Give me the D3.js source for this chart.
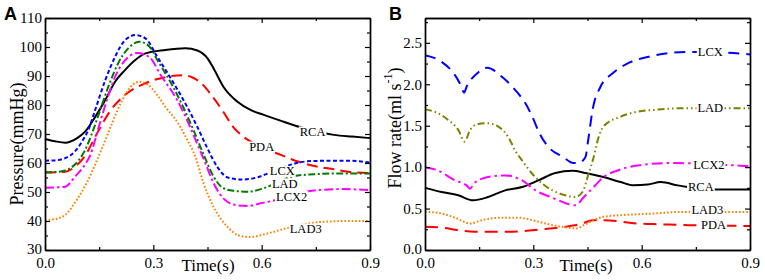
<!DOCTYPE html>
<html lang="en">
<head>
<meta charset="utf-8">
<script src="https://cdn.jsdelivr.net/npm/d3@7"></script>
<style>
  body { margin: 0; background: #fff; }
  text { font-family: "Liberation Serif", "Times New Roman", serif; fill: #000; }
</style>
</head>
<body>
<script>
// ---- panel A : pressure (mmHg) vs time (s), [t, value] pairs
var rcaA = [[0,68.3],[0.028,67.5],[0.056,67],[0.089,68.6],[0.111,70.8],[0.139,75.9],[0.167,81.7],[0.194,88],[0.222,92.1],[0.25,95.5],[0.278,97.8],[0.333,99],[0.389,99.6],[0.422,98.8],[0.45,96.1],[0.467,92.6],[0.494,86.3],[0.533,81.1],[0.569,78.3],[0.606,76.6],[0.652,74.6],[0.717,72],[0.8,69.7],[0.85,69.1],[0.9,68.6]];
var lcxA = [[0,60.8],[0.028,60.9],[0.056,61.7],[0.083,64],[0.1,66.9],[0.122,72],[0.139,78.3],[0.167,88.6],[0.194,96.6],[0.222,102.4],[0.25,104.1],[0.278,103],[0.311,96.6],[0.356,87.6],[0.394,79.3],[0.422,72.4],[0.45,65],[0.478,58.5],[0.506,55],[0.544,54.3],[0.589,55.1],[0.617,56.4],[0.656,58.3],[0.694,59.9],[0.744,60.7],[0.833,60.8],[0.87,60.6],[0.9,60.1]];
var ladA = [[0,56.8],[0.033,56.9],[0.056,57.4],[0.083,59.5],[0.109,64],[0.131,70.5],[0.148,76.5],[0.176,86.5],[0.203,94.5],[0.231,99.6],[0.261,101.8],[0.289,100.2],[0.311,95.5],[0.356,86],[0.411,71.4],[0.439,63],[0.467,55.3],[0.494,51.3],[0.522,50.4],[0.561,50.1],[0.606,51.3],[0.628,52.4],[0.656,54],[0.689,55.5],[0.744,56.1],[0.811,56.4],[0.9,56.4]];
var lcx2A = [[0,51.5],[0.033,51.6],[0.056,51.8],[0.083,55.3],[0.111,59.5],[0.128,63.5],[0.144,70.3],[0.167,80],[0.194,89.7],[0.222,95.5],[0.256,97.9],[0.289,96.5],[0.322,90],[0.367,81.5],[0.4,73],[0.422,66.5],[0.444,60],[0.467,53],[0.494,47.8],[0.528,45.5],[0.561,45.2],[0.597,46.1],[0.628,46.9],[0.667,48.3],[0.744,50.5],[0.822,51],[0.9,50.7]];
var pdaA = [[0,56.7],[0.056,57],[0.083,58.7],[0.111,62.5],[0.139,69],[0.178,77.5],[0.222,83.5],[0.278,87.5],[0.333,89.6],[0.383,90.3],[0.41,89.4],[0.433,87.5],[0.464,82.9],[0.492,78],[0.522,72.3],[0.55,69],[0.6,65.5],[0.653,62.8],[0.7,60.5],[0.756,58.7],[0.792,58],[0.839,57],[0.9,56.5]];
var lad3A = [[0,40.3],[0.033,40.8],[0.056,42.1],[0.089,47.5],[0.117,53.5],[0.144,61],[0.161,66],[0.186,73.8],[0.214,81.7],[0.242,86.9],[0.261,88],[0.286,86.9],[0.314,82.9],[0.333,79.4],[0.367,74],[0.394,68],[0.417,62],[0.439,53],[0.467,44.8],[0.506,37.9],[0.533,35.2],[0.567,34.5],[0.622,35.9],[0.672,37.6],[0.767,39.7],[0.839,40],[0.9,40]];

// ---- panel B : flow rate (ml/s) vs time (s)
var lcxB = [[0,2.35],[0.046,2.27],[0.083,2.11],[0.1,1.98],[0.108,1.9],[0.116,1.98],[0.139,2.11],[0.172,2.2],[0.213,2.09],[0.25,1.93],[0.278,1.77],[0.297,1.61],[0.319,1.39],[0.347,1.22],[0.38,1.13],[0.411,1.05],[0.425,1.05],[0.444,1.12],[0.453,1.36],[0.464,1.69],[0.486,1.97],[0.519,2.13],[0.56,2.25],[0.617,2.33],[0.68,2.38],[0.728,2.39],[0.838,2.38],[0.9,2.36]];
var ladB = [[0,1.7],[0.036,1.65],[0.064,1.57],[0.092,1.45],[0.11,1.31],[0.125,1.45],[0.147,1.52],[0.172,1.53],[0.203,1.49],[0.231,1.36],[0.25,1.2],[0.269,1.08],[0.297,0.92],[0.325,0.8],[0.353,0.72],[0.389,0.66],[0.417,0.64],[0.436,0.7],[0.453,0.92],[0.467,1.12],[0.48,1.35],[0.494,1.49],[0.542,1.61],[0.589,1.67],[0.633,1.69],[0.708,1.71],[0.838,1.71],[0.9,1.71]];
var lcx2B = [[0,1.0],[0.036,0.96],[0.083,0.84],[0.115,0.78],[0.125,0.74],[0.135,0.8],[0.147,0.84],[0.186,0.89],[0.222,0.9],[0.269,0.84],[0.306,0.72],[0.353,0.63],[0.417,0.54],[0.44,0.64],[0.467,0.76],[0.494,0.88],[0.533,0.96],[0.589,1.02],[0.681,1.05],[0.82,1.03],[0.9,1.01]];
var rcaB = [[0,0.75],[0.046,0.7],[0.092,0.66],[0.133,0.6],[0.175,0.64],[0.222,0.72],[0.269,0.76],[0.314,0.84],[0.361,0.93],[0.408,0.955],[0.444,0.93],[0.494,0.88],[0.542,0.82],[0.578,0.78],[0.617,0.79],[0.653,0.82],[0.7,0.78],[0.728,0.76],[0.8,0.73],[0.9,0.73]];
var lad3B = [[0,0.46],[0.036,0.45],[0.083,0.39],[0.125,0.32],[0.158,0.36],[0.214,0.39],[0.258,0.39],[0.306,0.35],[0.353,0.3],[0.397,0.27],[0.42,0.26],[0.44,0.3],[0.467,0.36],[0.494,0.4],[0.542,0.42],[0.633,0.44],[0.708,0.46],[0.9,0.46]];
var pdaB = [[0,0.28],[0.046,0.27],[0.092,0.24],[0.139,0.22],[0.231,0.22],[0.325,0.25],[0.389,0.28],[0.436,0.32],[0.464,0.36],[0.494,0.36],[0.589,0.32],[0.653,0.31],[0.728,0.3],[0.9,0.29]];

// tick values
var xMajor = [0, 0.3, 0.6, 0.9];
var xMinor = [0.15, 0.45, 0.75];
var yMajorA = [30, 40, 50, 60, 70, 80, 90, 100, 110];
var yMinorA = [35, 45, 55, 65, 75, 85, 95, 105];
var yMajorB = [0, 0.5, 1.0, 1.5, 2.0, 2.5];
var yMinorB = [0.25, 0.75, 1.25, 1.75, 2.25, 2.75];

// in-plot curve labels [name, t, value]
var labelsA = [["RCA", 0.741, 70.7], ["PDA", 0.6, 65.5], ["LCX", 0.657, 57.1], ["LAD", 0.664, 52.8], ["LCX2", 0.683, 48.4], ["LAD3", 0.722, 37.2]];
var labelsB = [["LCX", 0.79, 2.386], ["LAD", 0.79, 1.711], ["LCX2", 0.786, 1.024], ["RCA", 0.764, 0.759], ["LAD3", 0.782, 0.482], ["PDA", 0.799, 0.301]];

var w = 765, h = 280;
var svg = d3.select("body").append("svg").attr("width", w).attr("height", h);

var xA = d3.scaleLinear().domain([0, 0.9]).range([45, 370]);
var yA = d3.scaleLinear().domain([30, 110]).range([250, 18]);
var xB = d3.scaleLinear().domain([0, 0.9]).range([425, 750]);
var yB = d3.scaleLinear().domain([0, 2.8]).range([250, 18]);

var seriesA = [
  {data: rcaA, color: "#000000", dash: null},
  {data: pdaA, color: "#ff0000", dash: "11,6"},
  {data: lad3A, color: "#ff7f00", dash: "1.6,2"},
  {data: lcx2A, color: "#ff00ff", dash: "9,3,2.5,3"},
  {data: ladA, color: "#007a00", dash: "7,2.5,2,2.5"},
  {data: lcxA, color: "#0000ff", dash: "4,2.5"}
];
var seriesB = [
  {data: pdaB, color: "#ff0000", dash: "13,7"},
  {data: lad3B, color: "#ff7f00", dash: "1.6,2"},
  {data: rcaB, color: "#000000", dash: null},
  {data: lcx2B, color: "#ff00ff", dash: "11,4,2.5,4"},
  {data: ladB, color: "#808000", dash: "7,3,1.5,3,1.5,3"},
  {data: lcxB, color: "#0000ff", dash: "11,7"}
];

function drawAxes(x, y, yMajor, yMinor, fmtY) {
  var x0 = x.range()[0], x1 = x.range()[1], y0 = y.range()[0], y1 = y.range()[1];
  var g = svg.append("g");
  var fmtX = d3.format(".1f");

  g.append("g").attr("transform", "translate(0," + y0 + ")")
   .call(d3.axisBottom(x).tickValues(xMajor).tickSize(-5).tickSizeOuter(0).tickPadding(7).tickFormat(fmtX));
  g.append("g").attr("transform", "translate(0," + y0 + ")")
   .call(d3.axisBottom(x).tickValues(xMinor).tickSize(-3).tickSizeOuter(0).tickFormat(""));
  g.append("g").attr("transform", "translate(0," + y1 + ")")
   .call(d3.axisTop(x).tickValues(xMajor).tickSize(-5).tickSizeOuter(0).tickFormat(""));
  g.append("g").attr("transform", "translate(0," + y1 + ")")
   .call(d3.axisTop(x).tickValues(xMinor).tickSize(-3).tickSizeOuter(0).tickFormat(""));

  g.append("g").attr("class", "yleft").attr("transform", "translate(" + x0 + ",0)")
   .call(d3.axisLeft(y).tickValues(yMajor).tickSize(-5).tickSizeOuter(0).tickPadding(3).tickFormat(fmtY));
  g.append("g").attr("transform", "translate(" + x0 + ",0)")
   .call(d3.axisLeft(y).tickValues(yMinor).tickSize(-3).tickSizeOuter(0).tickFormat(""));
  g.append("g").attr("transform", "translate(" + x1 + ",0)")
   .call(d3.axisRight(y).tickValues(yMajor).tickSize(-5).tickSizeOuter(0).tickFormat(""));
  g.append("g").attr("transform", "translate(" + x1 + ",0)")
   .call(d3.axisRight(y).tickValues(yMinor).tickSize(-3).tickSizeOuter(0).tickFormat(""));

  g.selectAll(".domain").attr("stroke-width", 1.4);
  g.selectAll(".tick line").attr("stroke-width", 1.2);
  g.selectAll("g").attr("font-size", 15);
  // lowest y label sits a touch higher so it clears the 0.0 below it
  g.select(".yleft").selectAll(".tick text").filter(function(d, i) { return i === 0; }).attr("dy", "0.2em");
  return g;
}

function drawLines(x, y, series) {
  var line = d3.line()
    .x(function(d) { return x(d[0]); })
    .y(function(d) { return y(d[1]); })
    .curve(d3.curveMonotoneX);
  svg.append("g").selectAll("path")
    .data(series)
    .enter()
    .append("path")
    .attr("d", function(s) { return line(s.data); })
    .attr("fill", "none")
    .attr("stroke", function(s) { return s.color; })
    .attr("stroke-width", 2)
    .attr("stroke-dasharray", function(s) { return s.dash; });
}

function drawLabels(x, y, labels) {
  var g = svg.append("g");
  labels.forEach(function(l) {
    var t = g.append("text")
      .attr("x", x(l[1]))
      .attr("y", y(l[2]))
      .attr("text-anchor", "middle")
      .attr("dominant-baseline", "central")
      .attr("font-size", 12.5)
      .text(l[0]);
    var bb = t.node().getBBox();
    g.insert("rect", function() { return t.node(); })
      .attr("x", bb.x - 1).attr("y", bb.y + 1.5)
      .attr("width", bb.width + 2).attr("height", bb.height - 3)
      .attr("fill", "#fff");
  });
}

// panel A
drawLines(xA, yA, seriesA);
drawLabels(xA, yA, labelsA);
drawAxes(xA, yA, yMajorA, yMinorA, d3.format("d"));

// panel B
drawLines(xB, yB, seriesB);
drawLabels(xB, yB, labelsB);
drawAxes(xB, yB, yMajorB, yMinorB, d3.format(".1f"));

// titles
svg.append("text").attr("x", 4).attr("y", 20)
   .style("font-family", "'Liberation Sans', Arial, sans-serif")
   .attr("font-weight", "bold").attr("font-size", 18).text("A");
svg.append("text").attr("x", 389).attr("y", 20)
   .style("font-family", "'Liberation Sans', Arial, sans-serif")
   .attr("font-weight", "bold").attr("font-size", 18).text("B");

svg.append("text").attr("transform", "translate(17,144) rotate(-90)")
   .attr("text-anchor", "middle").attr("dominant-baseline", "central")
   .attr("font-size", 18).text("Pressure(mmHg)");

var fl = svg.append("text").attr("transform", "translate(395,128) rotate(-90)")
   .attr("text-anchor", "middle").attr("dominant-baseline", "central")
   .attr("font-size", 18);
fl.append("tspan").text("Flow rate(ml s");
fl.append("tspan").attr("font-size", 12).attr("dy", -7).text("-1");
fl.append("tspan").attr("dy", 7).text(")");

svg.append("text").attr("x", 208).attr("y", 271).attr("text-anchor", "middle")
   .attr("font-size", 17).text("Time(s)");
svg.append("text").attr("x", 586).attr("y", 271).attr("text-anchor", "middle")
   .attr("font-size", 17).text("Time(s)");
</script>
</body>
</html>
